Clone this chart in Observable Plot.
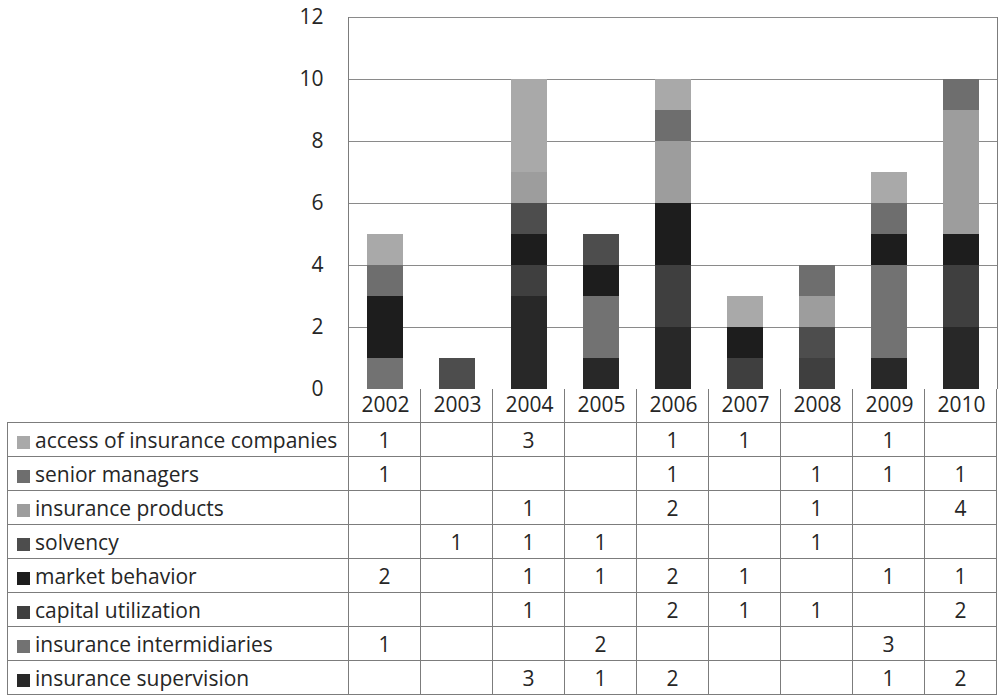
<!DOCTYPE html>
<html>
<head>
<meta charset="utf-8">
<script src="https://cdn.jsdelivr.net/npm/d3@7"></script>
<script src="https://cdn.jsdelivr.net/npm/@observablehq/plot@0.6"></script>
<style>
  html, body { margin: 0; padding: 0; background: #fff; }
  #wrap { position: relative; width: 999px; height: 696px; overflow: hidden; font-family: "Open Sans", Lato, sans-serif; }
  #wrap svg { position: absolute; left: 0; top: 0; }
  table.dt { position: absolute; left: 7px; top: 389px; border-collapse: collapse; table-layout: fixed; font-family: "Open Sans", Lato, sans-serif; font-size: 21px; color: #262626; }
  table.dt td { border: 1px solid #7c7c7c; padding: 0; height: 33px; line-height: 24px; text-align: center; background: transparent; white-space: nowrap; }
  table.dt tr.head td { border-top: none; border-bottom: 1px solid #7c7c7c; }
  table.dt td.lab { text-align: left; padding-left: 9px; }
  .sw { display: inline-block; width: 13px; height: 13px; margin-right: 5px; vertical-align: -1px; }
</style>
</head>
<body>
<div id="wrap"></div>
<script>
// Years on the x axis
const years = ["2002", "2003", "2004", "2005", "2006", "2007", "2008", "2009", "2010"];

// Categories in table order (top row first); bars stack in the reverse order
const categories = [
  "access of insurance companies",
  "senior managers",
  "insurance products",
  "solvency",
  "market behavior",
  "capital utilization",
  "insurance intermidiaries",
  "insurance supervision"
];

// Counts per year (null = empty cell)
const accessOfCompanies   = [1, null, 3, null, 1, 1, null, 1, null];
const seniorManagers      = [1, null, null, null, 1, null, 1, 1, 1];
const insuranceProducts   = [null, null, 1, null, 2, null, 1, null, 4];
const solvency            = [null, 1, 1, 1, null, null, 1, null, null];
const marketBehavior      = [2, null, 1, 1, 2, 1, null, 1, 1];
const capitalUtilization  = [null, null, 1, null, 2, 1, 1, null, 2];
const intermediaries      = [1, null, null, 2, null, null, null, 3, null];
const supervision         = [null, null, 3, 1, 2, null, null, 1, 2];

const seriesValues = [
  accessOfCompanies, seniorManagers, insuranceProducts, solvency,
  marketBehavior, capitalUtilization, intermediaries, supervision
];

// Grey shades for each category
const shades = ["#a9a9a9", "#6e6e6e", "#9d9d9d", "#4d4d4d", "#1d1d1d", "#3f3f3f", "#727272", "#282828"];

const yTicks = [0, 2, 4, 6, 8, 10, 12];

// Long-format rows, bottom segment first
const rows = [];
for (let c = categories.length - 1; c >= 0; c--) {
  seriesValues[c].forEach((v, i) => {
    if (v) rows.push({year: years[i], category: categories[c], count: v});
  });
}

const W = 999, H = 424, mL = 348, mR = 1, mT = 17, mB = 35;
const font = "'Open Sans', Lato, sans-serif";

const chart = Plot.plot({
  width: W,
  height: H,
  marginLeft: mL,
  marginRight: mR,
  marginTop: mT,
  marginBottom: mB,
  style: {fontFamily: font, fontSize: "21px", color: "#262626", background: "transparent", overflow: "visible"},
  x: {domain: years, paddingInner: 0.5, paddingOuter: 0.25, label: null},
  y: {domain: [0, 12], label: null},
  color: {domain: categories, range: shades},
  marks: [
    Plot.gridY(yTicks.filter(t => t > 0), {stroke: "#8a8a8a", strokeOpacity: 1}),
    Plot.barY(rows, {x: "year", y: "count", fill: "category"}),
    Plot.axisY({ticks: yTicks, tickSize: 0, tickPadding: 25, fontSize: 21}),
    Plot.axisX({tickSize: 0, tickPadding: 8, fontSize: 21})
  ]
});

// Frame lines of the plot area (left and right edges)
d3.select(chart).append("line")
  .attr("x1", mL + 0.5).attr("x2", mL + 0.5).attr("y1", mT).attr("y2", H - mB)
  .attr("stroke", "#7c7c7c");
d3.select(chart).append("line")
  .attr("x1", W - mR - 0.5).attr("x2", W - mR - 0.5).attr("y1", mT).attr("y2", H - mB)
  .attr("stroke", "#7c7c7c");

const wrap = document.getElementById("wrap");
wrap.appendChild(chart);

// Data table under the chart, columns aligned to the x scale
const step = chart.scale("x").step;

const table = document.createElement("table");
table.className = "dt";
const colgroup = document.createElement("colgroup");
const c0 = document.createElement("col");
c0.style.width = (mL - 7) + "px";
colgroup.appendChild(c0);
years.forEach(() => {
  const c = document.createElement("col");
  c.style.width = step + "px";
  colgroup.appendChild(c);
});
table.appendChild(colgroup);

// header row: borders only, the year labels come from the x axis
const head = document.createElement("tr");
head.className = "head";
const corner = document.createElement("td");
corner.style.border = "none";
corner.style.borderRight = "1px solid #7c7c7c";
head.appendChild(corner);
years.forEach(() => head.appendChild(document.createElement("td")));
table.appendChild(head);

categories.forEach((cat, ci) => {
  const tr = document.createElement("tr");
  const lab = document.createElement("td");
  lab.className = "lab";
  const sw = document.createElement("span");
  sw.className = "sw";
  sw.style.background = shades[ci];
  lab.appendChild(sw);
  lab.appendChild(document.createTextNode(cat));
  tr.appendChild(lab);
  seriesValues[ci].forEach(v => {
    const td = document.createElement("td");
    td.textContent = v == null ? "" : v;
    tr.appendChild(td);
  });
  table.appendChild(tr);
});
wrap.appendChild(table);
</script>
</body>
</html>
